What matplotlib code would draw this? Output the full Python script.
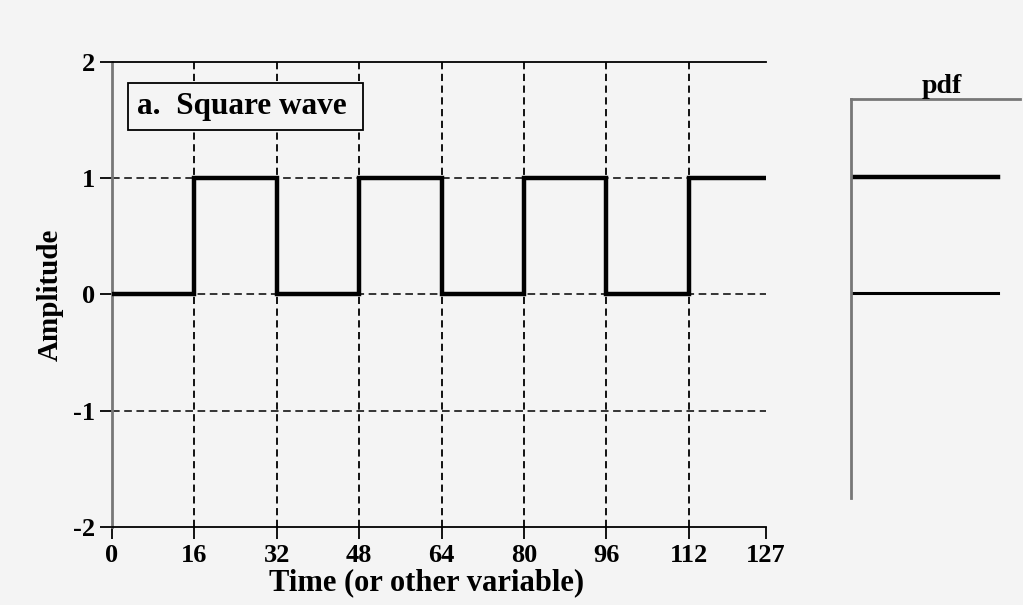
import matplotlib.pyplot as plt

# square wave: levels between edges
edges = [0, 16, 32, 48, 64, 80, 96, 112, 127]
levels = [0, 1, 0, 1, 0, 1, 0, 1]
xticks = [0, 16, 32, 48, 64, 80, 96, 112, 127]
yticks = [-2, -1, 0, 1, 2]

# pdf: two delta levels
pdf_levels = [1, 0]
pdf_mass = [0.87, 0.87]
pdf_widths = [3.2, 2.2]

bg = "#f4f4f4"
plt.rcParams["font.family"] = ["Liberation Serif", "DejaVu Serif"]
plt.rcParams["font.weight"] = "bold"
plt.rcParams["axes.unicode_minus"] = False

fig = plt.figure(figsize=(10.23, 6.05), dpi=100, facecolor=bg)

ax = fig.add_axes([0.1095, 0.129, 0.6393, 0.7685], facecolor=bg)
ax.stairs(levels, edges, color="black", linewidth=3.2, baseline=None, zorder=3)
ax.set_xlim(0, 127)
ax.set_ylim(-2, 2)
ax.set_xticks(xticks)
ax.set_yticks(yticks)
for x in xticks[1:-1]:
    ax.axvline(x, color="black", linewidth=1.3, linestyle=(0, (4, 2.5)), zorder=1)
for y in [-1, 0, 1]:
    ax.axhline(y, color="black", linewidth=1.1, linestyle=(0, (5, 3)), zorder=1)
ax.spines["right"].set_visible(False)
ax.spines["left"].set_color("#777777")
ax.spines["left"].set_linewidth(2.0)
ax.spines["top"].set_linewidth(1.3)
ax.spines["bottom"].set_linewidth(1.3)
ax.tick_params(direction="out", length=8.5, width=1.3, labelsize=19, pad=4)
ax.set_xlabel("Time (or other variable)", fontsize=22, fontweight="bold", labelpad=1, x=0.481)
ax.set_ylabel("Amplitude", fontsize=21, fontweight="bold", labelpad=6)
ax.text(0.038, 0.935, "a.  Square wave ", transform=ax.transAxes, fontsize=22.5,
        fontweight="bold", va="top", ha="left",
        bbox=dict(boxstyle="square,pad=0.28", facecolor=bg, edgecolor="black", linewidth=1.3))

ax2 = fig.add_axes([0.832, 0.177, 0.165, 0.659], facecolor=bg)
for lv, m, w in zip(pdf_levels, pdf_mass, pdf_widths):
    ax2.plot([0, m], [lv, lv], color="black", linewidth=w)
ax2.set_xlim(0, 1)
ax2.set_ylim(-1.77, 1.67)
ax2.set_xticks([])
ax2.set_yticks([])
for s in ["right", "bottom"]:
    ax2.spines[s].set_visible(False)
for s in ["left", "top"]:
    ax2.spines[s].set_color("#777777")
    ax2.spines[s].set_linewidth(2.0)
ax2.text(0.535, 1.0, "pdf", transform=ax2.transAxes, fontsize=20,
         fontweight="bold", ha="center", va="bottom")

fig.savefig("out.png", dpi=100, facecolor=bg)
